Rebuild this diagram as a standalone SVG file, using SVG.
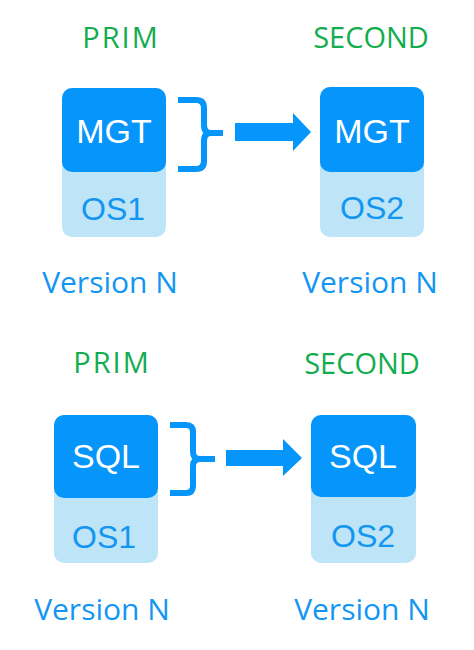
<svg xmlns="http://www.w3.org/2000/svg" width="474" height="650" viewBox="0 0 474 650">
<style>
.role{font-family:"Open Sans","Noto Sans",sans-serif;font-size:29px;fill:#12ad4f;text-anchor:middle}
.prim{letter-spacing:2px}
.ver{font-family:"Open Sans","Noto Sans",sans-serif;font-size:30px;fill:#1296f2;text-anchor:middle}
.top{fill:#0595fb}
.base{fill:#bee5f7}
.app{font-family:"Liberation Sans",Arial,sans-serif;font-size:34px;fill:#ffffff;text-anchor:middle}
.os{font-family:"Liberation Sans",Arial,sans-serif;font-size:32px;fill:#1296f2;text-anchor:middle}
.brace{fill:none;stroke:#0595fb;stroke-width:6;stroke-linejoin:round}
.arrow{fill:#0595fb}
</style>
<rect width="474" height="650" fill="#ffffff"/>
<g id="prim-mgt">
<text class="role prim" x="121" y="48">PRIM</text>
<rect class="base" x="62" y="88" width="104" height="149" rx="10"/>
<rect class="top" x="62" y="88" width="104" height="84" rx="10"/>
<text class="app" x="114" y="143">MGT</text>
<text class="os" x="113" y="220">OS1</text>
<text class="ver" x="110" y="293">Version N</text>
</g>
<g id="second-mgt">
<text class="role" x="371" y="48">SECOND</text>
<rect class="base" x="320" y="87" width="104" height="150" rx="10"/>
<rect class="top" x="320" y="87" width="104" height="85" rx="10"/>
<text class="app" x="372" y="143">MGT</text>
<text class="os" x="372" y="219">OS2</text>
<text class="ver" x="370" y="293">Version N</text>
</g>
<g id="prim-sql">
<text class="role prim" x="112" y="373">PRIM</text>
<rect class="base" x="54" y="415" width="104" height="148" rx="10"/>
<rect class="top" x="54" y="415" width="104" height="83" rx="10"/>
<text class="app" x="106" y="468">SQL</text>
<text class="os" x="104" y="548">OS1</text>
<text class="ver" x="102" y="620">Version N</text>
</g>
<g id="second-sql">
<text class="role" x="362" y="374">SECOND</text>
<rect class="base" x="311" y="415" width="105" height="148" rx="10"/>
<rect class="top" x="311" y="415" width="105" height="82" rx="10"/>
<text class="app" x="363" y="468">SQL</text>
<text class="os" x="363" y="547">OS2</text>
<text class="ver" x="362" y="620">Version N</text>
</g>
<g id="connectors">
<path class="brace" d="M178,100 L196,100 Q204,100 204,108 L204,125 Q204,133 211,133 L223,133 M211,133 Q204,133 204,141 L204,161 Q204,169 196,169 L178,169"/>
<polygon class="arrow" points="235,123 293,123 293,113 311,132 293,151 293,141 235,141"/>
<path class="brace" d="M170,425 L186,425 Q193,425 193,432 L193,452 Q193,459 200,459 L215,459 M200,459 Q193,459 193,466 L193,486 Q193,493 186,493 L170,493"/>
<polygon class="arrow" points="226,450 283,450 283,439 302,458 283,476 283,466 226,466"/>
</g>
</svg>
